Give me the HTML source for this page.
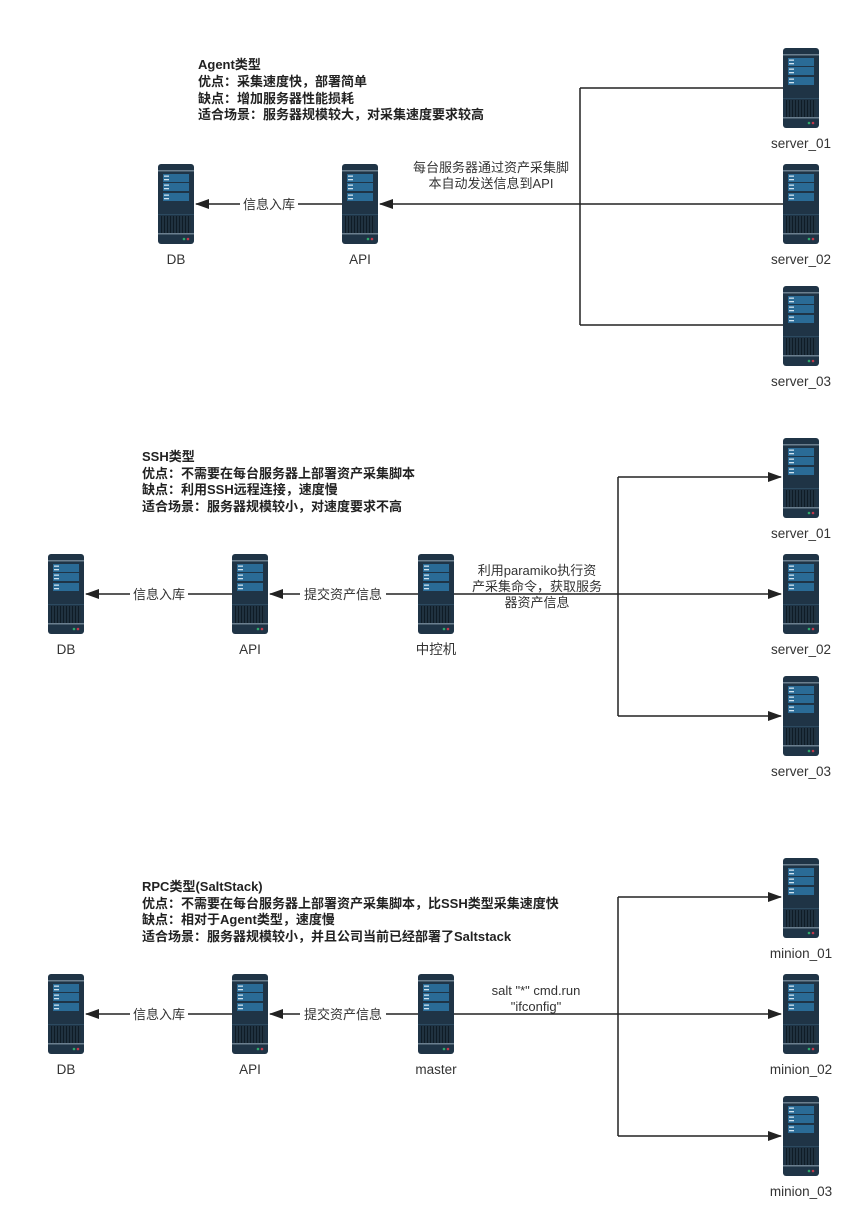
<!DOCTYPE html>
<html><head><meta charset="utf-8">
<style>
html,body{margin:0;padding:0;background:#fff;}
svg{display:block;}
text{font-family:"Liberation Sans","Noto Sans CJK SC",sans-serif;fill:#333;}
.t{font-size:13px;font-weight:bold;fill:#222;}
.l{font-size:13px;}
.n{font-size:13.5px;}
</style></head><body>
<svg width="851" height="1208" viewBox="0 0 851 1208" xmlns="http://www.w3.org/2000/svg">
<defs>
<g id="srv">
<rect x="0" y="0" width="36" height="80" rx="3" fill="#1f3446"/>
<rect x="0" y="6" width="36" height="1.5" fill="#6b7f8f"/>
<rect x="5" y="10" width="26" height="8" fill="#2a6b96"/>
<rect x="5" y="19" width="26" height="8" fill="#2a6b96"/>
<rect x="5" y="29" width="26" height="8" fill="#2a6b96"/>
<rect x="6" y="11.5" width="5" height="1.3" fill="#cfe3f0"/>
<rect x="6" y="15" width="5" height="1.3" fill="#cfe3f0"/>
<rect x="6" y="20.5" width="5" height="1.3" fill="#cfe3f0"/>
<rect x="6" y="24" width="5" height="1.3" fill="#cfe3f0"/>
<rect x="6" y="30.5" width="5" height="1.3" fill="#cfe3f0"/>
<rect x="6" y="34" width="5" height="1.3" fill="#cfe3f0"/>
<rect x="0" y="50" width="36" height="1" fill="#2c4a60"/>
<rect x="3" y="52" width="30" height="17" fill="#0f1c26"/>
<g stroke="#3a5568" stroke-width="0.8">
<path d="M5 52v17M8 52v17M11 52v17M14 52v17M17 52v17M20 52v17M23 52v17M26 52v17M29 52v17M32 52v17"/>
</g>
<rect x="0" y="69" width="36" height="1.5" fill="#6b7f8f"/>
<circle cx="26" cy="75" r="1.3" fill="#2fa86b"/>
<circle cx="30" cy="75" r="1.3" fill="#c0394b"/>
</g>
<marker id="ar" markerWidth="14" markerHeight="10" refX="13" refY="5" orient="auto" markerUnits="userSpaceOnUse">
<path d="M0,0 L14,5 L0,10 Z" fill="#222"/>
</marker>
</defs>

<g stroke="#222" stroke-width="1.5" fill="none">
<path d="M580 88V325M580 88H783M580 325H783M783 204H380" marker-end="url(#ar)"/>
<path d="M342 204H196" marker-end="url(#ar)"/>
<path d="M618 477V716"/>
<path d="M618 477H781" marker-end="url(#ar)"/>
<path d="M454 594H781" marker-end="url(#ar)"/>
<path d="M618 716H781" marker-end="url(#ar)"/>
<path d="M418 594H270" marker-end="url(#ar)"/>
<path d="M232 594H86" marker-end="url(#ar)"/>
<path d="M618 897V1136"/>
<path d="M618 897H781" marker-end="url(#ar)"/>
<path d="M454 1014H781" marker-end="url(#ar)"/>
<path d="M618 1136H781" marker-end="url(#ar)"/>
<path d="M418 1014H270" marker-end="url(#ar)"/>
<path d="M232 1014H86" marker-end="url(#ar)"/>
</g>

<rect x="240" y="196" width="58" height="16" fill="#fff"/>
<rect x="130" y="586" width="58" height="16" fill="#fff"/>
<rect x="300" y="586" width="86" height="16" fill="#fff"/>
<rect x="130" y="1006" width="58" height="16" fill="#fff"/>
<rect x="300" y="1006" width="86" height="16" fill="#fff"/>

<text class="l" x="269" y="209" text-anchor="middle">信息入库</text>
<text class="l" x="159" y="599" text-anchor="middle">信息入库</text>
<text class="l" x="343" y="599" text-anchor="middle">提交资产信息</text>
<text class="l" x="159" y="1019" text-anchor="middle">信息入库</text>
<text class="l" x="343" y="1019" text-anchor="middle">提交资产信息</text>

<text class="l" x="491" y="172" text-anchor="middle">每台服务器通过资产采集脚</text>
<text class="l" x="491" y="188" text-anchor="middle">本自动发送信息到API</text>
<text class="l" x="537" y="575" text-anchor="middle">利用paramiko执行资</text>
<text class="l" x="537" y="591" text-anchor="middle">产采集命令，获取服务</text>
<text class="l" x="537" y="607" text-anchor="middle">器资产信息</text>
<text class="l" x="536" y="995" text-anchor="middle">salt "*" cmd.run</text>
<text class="l" x="536" y="1011" text-anchor="middle">"ifconfig"</text>

<use href="#srv" x="158" y="164"/><use href="#srv" x="342" y="164"/>
<use href="#srv" x="783" y="48"/><use href="#srv" x="783" y="164"/><use href="#srv" x="783" y="286"/>
<use href="#srv" x="48" y="554"/><use href="#srv" x="232" y="554"/><use href="#srv" x="418" y="554"/>
<use href="#srv" x="783" y="438"/><use href="#srv" x="783" y="554"/><use href="#srv" x="783" y="676"/>
<use href="#srv" x="48" y="974"/><use href="#srv" x="232" y="974"/><use href="#srv" x="418" y="974"/>
<use href="#srv" x="783" y="858"/><use href="#srv" x="783" y="974"/><use href="#srv" x="783" y="1096"/>

<g text-anchor="middle">
<text class="n" x="176" y="264">DB</text>
<text class="n" x="360" y="264">API</text>
<text class="n" x="801" y="148">server_01</text>
<text class="n" x="801" y="264">server_02</text>
<text class="n" x="801" y="386">server_03</text>
<text class="n" x="66" y="654">DB</text>
<text class="n" x="250" y="654">API</text>
<text class="n" x="436" y="654">中控机</text>
<text class="n" x="801" y="538">server_01</text>
<text class="n" x="801" y="654">server_02</text>
<text class="n" x="801" y="776">server_03</text>
<text class="n" x="66" y="1074">DB</text>
<text class="n" x="250" y="1074">API</text>
<text class="n" x="436" y="1074">master</text>
<text class="n" x="801" y="958">minion_01</text>
<text class="n" x="801" y="1074">minion_02</text>
<text class="n" x="801" y="1196">minion_03</text>
</g>

<text class="t" x="198" y="69">Agent类型</text>
<text class="t" x="198" y="86">优点：采集速度快，部署简单</text>
<text class="t" x="198" y="103">缺点：增加服务器性能损耗</text>
<text class="t" x="198" y="119">适合场景：服务器规模较大，对采集速度要求较高</text>

<text class="t" x="142" y="461">SSH类型</text>
<text class="t" x="142" y="478">优点：不需要在每台服务器上部署资产采集脚本</text>
<text class="t" x="142" y="494">缺点：利用SSH远程连接，速度慢</text>
<text class="t" x="142" y="511">适合场景：服务器规模较小，对速度要求不高</text>

<text class="t" x="142" y="891">RPC类型(SaltStack)</text>
<text class="t" x="142" y="908">优点：不需要在每台服务器上部署资产采集脚本，比SSH类型采集速度快</text>
<text class="t" x="142" y="924">缺点：相对于Agent类型，速度慢</text>
<text class="t" x="142" y="941">适合场景：服务器规模较小，并且公司当前已经部署了Saltstack</text>
</svg>
</body></html>
